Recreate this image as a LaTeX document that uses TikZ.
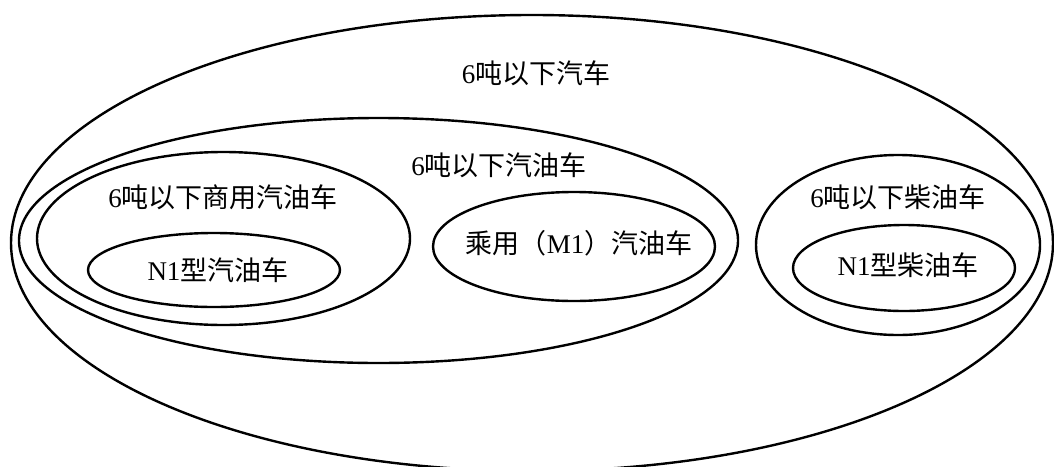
\documentclass[tikz,border=0pt]{standalone}
\usepackage{fontspec}
\setmainfont{Liberation Serif}
\newfontfamily\cjk{Noto Sans CJK SC}
\usetikzlibrary{shapes.geometric}
\begin{document}
\begin{tikzpicture}[x=1pt,y=-1pt,
  ring/.style={draw=black,line width=2.4pt,ellipse,inner sep=0pt},
  lbl/.style={inner sep=0pt,font=\fontsize{27}{30}\selectfont,anchor=center}]
\useasboundingbox (0,0) rectangle (1054,466);
\clip (0,0) rectangle (1054,466);
\node[ring,minimum width=1042pt,minimum height=456pt] (all) at (532,243) {};
\node[ring,minimum width=719pt,minimum height=245pt] (gas) at (378.5,240.5) {};
\node[ring,minimum width=373pt,minimum height=173pt] (com) at (223.5,238.5) {};
\node[ring,minimum width=252pt,minimum height=74pt] (n1g) at (214,270) {};
\node[ring,minimum width=282pt,minimum height=109pt] (m1) at (574,246.5) {};
\node[ring,minimum width=284pt,minimum height=180pt] (die) at (898,245) {};
\node[ring,minimum width=222pt,minimum height=86pt] (n1d) at (904,268) {};
\node[lbl] (tall) at (536,73) {6{\cjk 吨以下汽车}};
\node[lbl] (tgas) at (499,165) {6{\cjk 吨以下汽油车}};
\node[lbl] (tcom) at (223,197) {6{\cjk 吨以下商用汽油车}};
\node[lbl] (tn1g) at (218,270) {N1{\cjk 型汽油车}};
\node[lbl] (tm1) at (579,243) {{\cjk 乘用（}M1{\cjk ）汽油车}};
\node[lbl] (tdie) at (898,197) {6{\cjk 吨以下柴油车}};
\node[lbl] (tn1d) at (908,265) {N1{\cjk 型柴油车}};
\end{tikzpicture}
\end{document}
